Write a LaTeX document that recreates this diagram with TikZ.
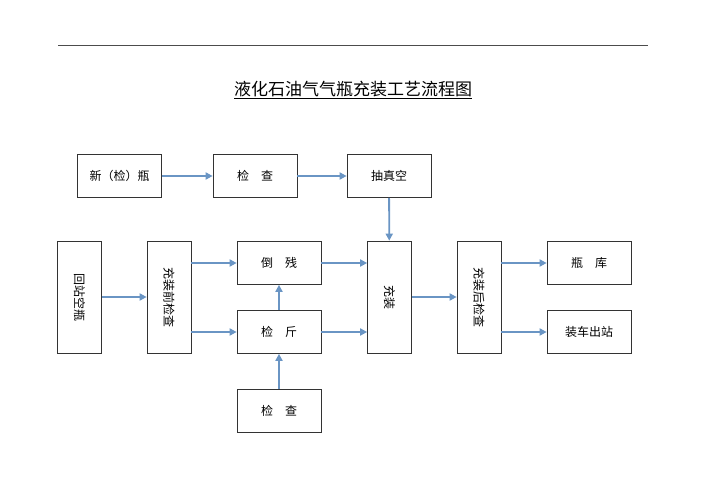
\documentclass[tikz,border=0pt]{standalone}
\usepackage{fontspec}
\newfontfamily\cjk{Noto Sans CJK SC}
\usetikzlibrary{arrows.meta}
\definecolor{arr}{HTML}{6A95C4}
\begin{document}
\begin{tikzpicture}[x=1pt,y=-1pt,
  box/.style={draw=black!80,line width=0.7pt,inner sep=0pt,font=\cjk\fontsize{12}{14}\selectfont},
  hb/.style={box,minimum width=84pt,minimum height=43pt},
  vb/.style={box,minimum width=44pt,minimum height=112pt},
  ar/.style={draw=arr,line width=1.8pt,-{Triangle[length=7pt,width=7pt]}}]
\useasboundingbox (0,0) rectangle (707,500);
\draw[line width=0.5pt,black!70] (58,45) -- (648,45);
\node[font=\cjk\fontsize{17}{20}\selectfont] (t) at (353,90) {\underline{液化石油气气瓶充装工艺流程图}};
\node[hb] (xp) at (119.5,176) {新（检）瓶};
\node[hb] (jc) at (255,176) {检\quad 查};
\node[hb] (cz) at (389,176) {抽真空};
\node[vb] (hz) at (79.5,297) {\rotatebox{-90}{回站空瓶}};
\node[vb] (qj) at (169,297) {\rotatebox{-90}{充装前检查}};
\node[hb] (dc) at (279,263) {倒\quad 残};
\node[hb] (jj) at (279,332) {检\quad 斤};
\node[vb] (cf) at (389.5,297) {\rotatebox{-90}{充装}};
\node[vb] (hj) at (479,297) {\rotatebox{-90}{充装后检查}};
\node[hb] (pk) at (589,263) {瓶\quad 库};
\node[hb] (zc) at (589,332) {装车出站};
\node[hb] (jc2) at (279,411) {检\quad 查};
\draw[ar] (xp) -- (jc);
\draw[ar] (jc) -- (cz);
\draw[ar] (cz) -- (cf);
\draw[ar] (hz) -- (qj);
\draw[ar] (qj.east |- dc) -- (dc);
\draw[ar] (qj.east |- jj.west) -- (jj.west);
\draw[ar] (jj) -- (dc);
\draw[ar] (jc2) -- (jj);
\draw[ar] (dc) -- (cf.west |- dc);
\draw[ar] (jj.east) -- (cf.west |- jj.east);
\draw[ar] (cf) -- (hj);
\draw[ar] (hj.east |- pk) -- (pk);
\draw[ar] (hj.east |- zc.west) -- (zc.west);
\end{tikzpicture}
\end{document}
